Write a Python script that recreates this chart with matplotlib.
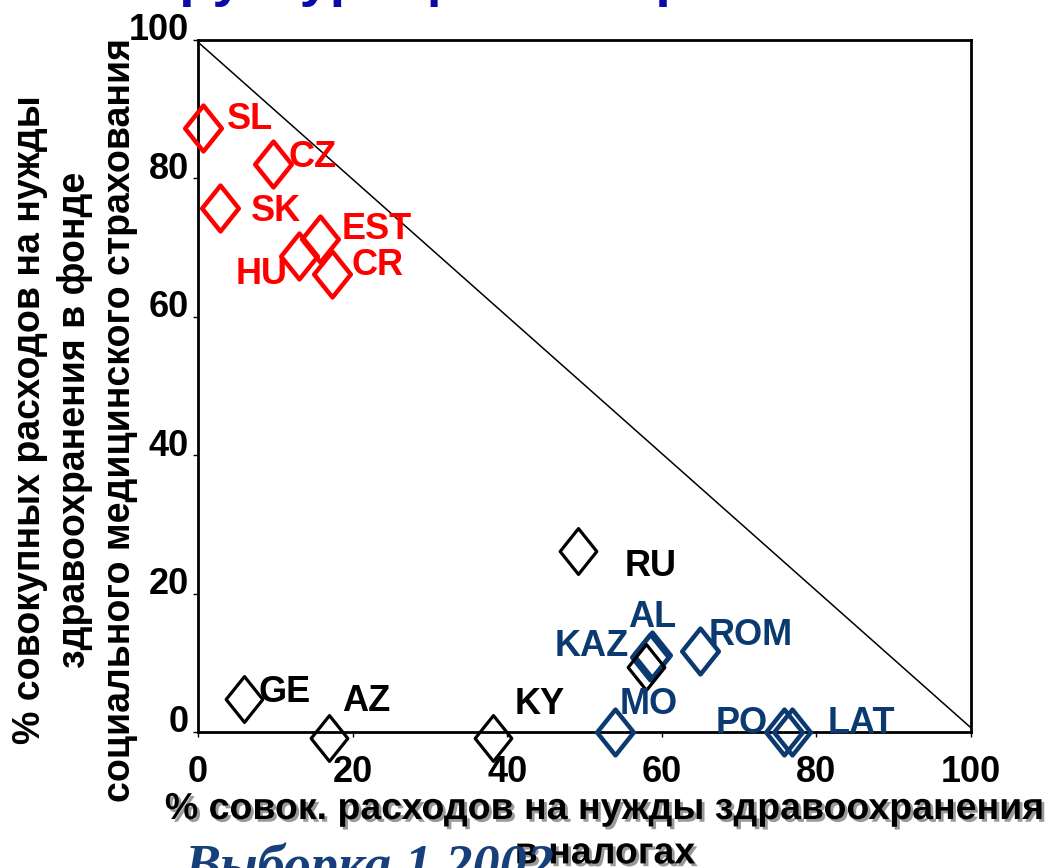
import numpy as np
import matplotlib
matplotlib.use("Agg")
import matplotlib.pyplot as plt
import matplotlib.patheffects as pe
from matplotlib.path import Path
from matplotlib.transforms import ScaledTranslation

plt.rcParams['font.family'] = ['Liberation Sans', 'DejaVu Sans']
plt.rcParams['font.weight'] = 'bold'

# данные (читаются с картинки)
red_names = ["SL", "CZ", "SK", "EST", "HU", "CR"]
red_x = [0.7, 9.7, 2.8, 15.8, 13.1, 17.3]
red_y = [87.3, 82.1, 75.7, 71.3, 68.8, 66.2]

blue_names = ["AL", "KAZ", "ROM", "MO", "PO", "LAT"]
blue_x = [58.7, 58.5, 64.9, 53.9, 75.8, 76.8]
blue_y = [11.1, 10.9, 11.7, 0.0, 0.0, 0.0]

black_names = ["RU", "GE", "AZ", "KY", ""]
black_x = [49.2, 5.9, 17.0, 38.1, 57.9]
black_y = [26.1, 4.8, -0.8, -0.8, 9.4]

ticks = [0, 20, 40, 60, 80, 100]

# смещения подписей (в единицах осей, до базовой линии)
label_offsets = {
    "SL": (3.0, -0.2), "CZ": (2.0, -0.4), "SK": (4.1, -1.8), "EST": (2.8, -0.1),
    "HU": (-8.2, -4.1), "CR": (2.6, -0.2),
    "RU": (6.0, -3.6), "GE": (1.9, -0.4), "AZ": (1.6, 3.9), "KY": (2.8, 3.4),
    "AL": (-3.0, 4.1), "KAZ": (-12.4, 0.1), "ROM": (1.2, 0.9), "MO": (0.7, 2.6),
    "PO": (-8.8, -0.2), "LAT": (4.6, -0.2),
}

diamond = Path([(0, 1), (0.8, 0), (0, -1), (-0.8, 0), (0, 1)],
               [Path.MOVETO, Path.LINETO, Path.LINETO, Path.LINETO, Path.CLOSEPOLY])

fig = plt.figure(figsize=(10.52, 8.68), dpi=100)
ax = fig.add_axes([198/1052, 1-732/868, (971-198)/1052, (732-40)/868])

ax.plot([0.3, 100], [99.4, 0.6], color='k', lw=1.1)

groups = [
    (red_names, red_x, red_y, '#FF0000', 3.2),
    (blue_names, blue_x, blue_y, '#0B3A70', 3.2),
    (black_names, black_x, black_y, 'black', 2.3),
]
for names, xs, ys, col, ew in groups:
    ax.plot(xs, ys, ls='none', marker=diamond, markersize=33, markerfacecolor='none',
            markeredgecolor=col, markeredgewidth=ew, clip_on=False, zorder=3)
    for n, x, y in zip(names, xs, ys):
        if n == "":
            continue
        dx, dy = label_offsets[n]
        ax.text(x + dx, y + dy, n, color=col, fontsize=26, fontweight='bold',
                ha='left', va='baseline', zorder=4)

ax.set_xlim(0, 100)
ax.set_ylim(0, 100)
ax.set_xticks(ticks)
ax.set_yticks(ticks)
ax.tick_params(direction='out', length=3.6, width=1.0, labelsize=26, color='k')
ax.tick_params(axis='x', pad=13)
ax.tick_params(axis='y', pad=3)
for lab in ax.get_xticklabels() + ax.get_yticklabels():
    lab.set_fontweight('bold')
for lab in ax.get_yticklabels():
    lab.set_transform(lab.get_transform() + ScaledTranslation(0, 0.13, fig.dpi_scale_trans))
for s in ax.spines.values():
    s.set_linewidth(2.0)

fig.text(75/1052, 1-420/868,
         "% совокупных расходов на нужды\nздравоохранения в фонде\nсоциального медицинского страхования",
         rotation=90, ha='center', va='center', multialignment='center',
         fontsize=27, fontweight='bold', linespacing=1.33)

fig.text(605/1052, 1-791/868,
         "% совок. расходов на нужды здравоохранения\nв налогах",
         ha='center', va='top', multialignment='center', fontsize=27, fontweight='bold',
         linespacing=1.3,
         path_effects=[pe.withSimplePatchShadow(offset=(2, -2), shadow_rgbFace='#808080', alpha=0.8)])

fig.text(185/1052, -14/868, "Выборка 1 2002", family=['Liberation Serif', 'DejaVu Serif'],
         style='italic', fontweight='bold', fontsize=39, color='#17407A',
         ha='left', va='baseline')

fig.text(112/1052, 1+5/868, "Структура финансирования", fontsize=40, fontweight='bold',
         color='#0A0AA8', ha='left', va='baseline')

fig.savefig("out.png", dpi=100)
